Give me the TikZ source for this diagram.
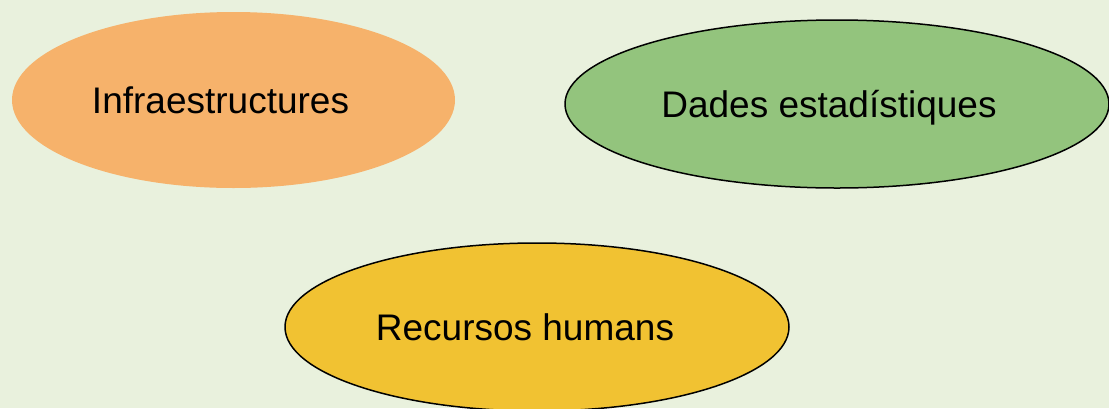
\documentclass[tikz,border=0pt]{standalone}
\usepackage{fontspec}
\setmainfont{Liberation Sans}
\usetikzlibrary{shapes.geometric}
\definecolor{bgcol}{HTML}{E9F1DD}
\definecolor{orangefill}{HTML}{F6B26B}
\definecolor{greenfill}{HTML}{93C47D}
\definecolor{yellowfill}{HTML}{F1C232}
\begin{document}
\begin{tikzpicture}[x=1pt,y=-1pt,
  font=\fontsize{37}{44}\selectfont,
  blob/.style={ellipse, inner sep=0pt},
  outlined/.style={draw=black, line width=1.5pt},
  txt/.style={inner sep=0pt, text height=26.5pt, text depth=0pt}]
\fill[bgcol] (0,0) rectangle (1109,408);
\useasboundingbox (0,0) rectangle (1109,408);
\clip (0,0) rectangle (1109,408);
\node[blob, fill=orangefill, minimum width=443pt, minimum height=176pt,
  label={[txt, xshift=-13pt]center:Infraestructures}] (infra) at (233.5,100) {};
\node[blob, fill=greenfill, outlined, minimum width=544pt, minimum height=168pt,
  label={[txt, xshift=-8pt]center:Dades estadístiques}] (dades) at (837,104) {};
\node[blob, fill=yellowfill, outlined, minimum width=504pt, minimum height=168pt,
  label={[txt, xshift=-12pt]center:Recursos humans}] (recursos) at (537,327) {};
\end{tikzpicture}
\end{document}
